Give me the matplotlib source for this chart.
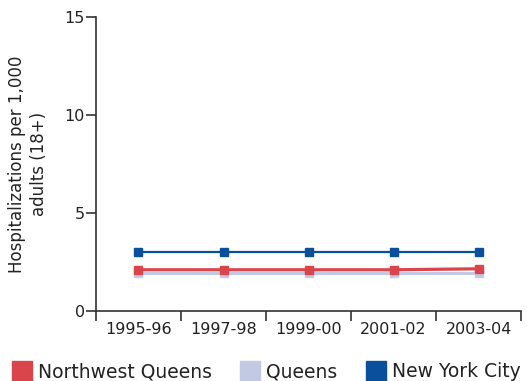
import matplotlib
matplotlib.use("Agg")
import matplotlib.pyplot as plt
from matplotlib.lines import Line2D

# hospitalization rates per 1,000 adults
periods = ["1995-96", "1997-98", "1999-00", "2001-02", "2003-04"]
nw_queens = [2.1, 2.1, 2.1, 2.1, 2.15]
queens = [1.95, 1.95, 1.95, 1.95, 1.95]
nyc = [3.0, 3.0, 3.0, 3.0, 3.0]

c_nwq = "#d9454a"
c_q = "#c2cae3"
c_nyc = "#0a4f9c"

fig = plt.figure(figsize=(5.27, 3.81), dpi=100)
ax = fig.add_axes([0.182, 0.184, 0.807, 0.771])

x = list(range(len(periods)))
ax.plot(x, queens, color=c_q, lw=2.2, marker="s", ms=5.5, zorder=2)
ax.plot(x, nw_queens, color=c_nwq, lw=2.3, marker="s", ms=6, zorder=3)
ax.plot(x, nyc, color=c_nyc, lw=1.6, marker="s", ms=6, zorder=3)

ax.set_xlim(-0.5, len(periods) - 0.5)
ax.set_ylim(0, 15)
ax.set_yticks([0, 5, 10, 15])
ax.set_xticks([i - 0.5 for i in range(len(periods) + 1)])
ax.set_xticklabels([])
ax.set_xticks(x, minor=True)
ax.set_xticklabels(periods, minor=True)
ax.tick_params(axis="x", which="minor", length=0, pad=8, labelsize=11.5, labelcolor="#222222")
ax.tick_params(axis="x", which="major", length=7, width=1.2, color="#333333")
ax.tick_params(axis="y", length=7, width=1.2, color="#333333", labelsize=11.5, labelcolor="#222222", pad=1)

for s in ["top", "right"]:
    ax.spines[s].set_visible(False)
for s in ["left", "bottom"]:
    ax.spines[s].set_color("#333333")
    ax.spines[s].set_linewidth(1.2)

ax.set_ylabel("Hospitalizations per 1,000\nadults (18+)", fontsize=12, color="#222222",
              labelpad=12, linespacing=1.25)

handles = [Line2D([], [], ls="none", marker="s", ms=15, color=c) for c in (c_nwq, c_q, c_nyc)]
fig.legend(handles, ["Northwest Queens", "Queens", "New York City"],
           loc="lower left", bbox_to_anchor=(-0.008, -0.045), ncol=3, frameon=False,
           fontsize=13.5, handletextpad=0.35, columnspacing=1.55, handlelength=1.0,
           labelcolor="#222222")

fig.savefig("out.png", dpi=100)
